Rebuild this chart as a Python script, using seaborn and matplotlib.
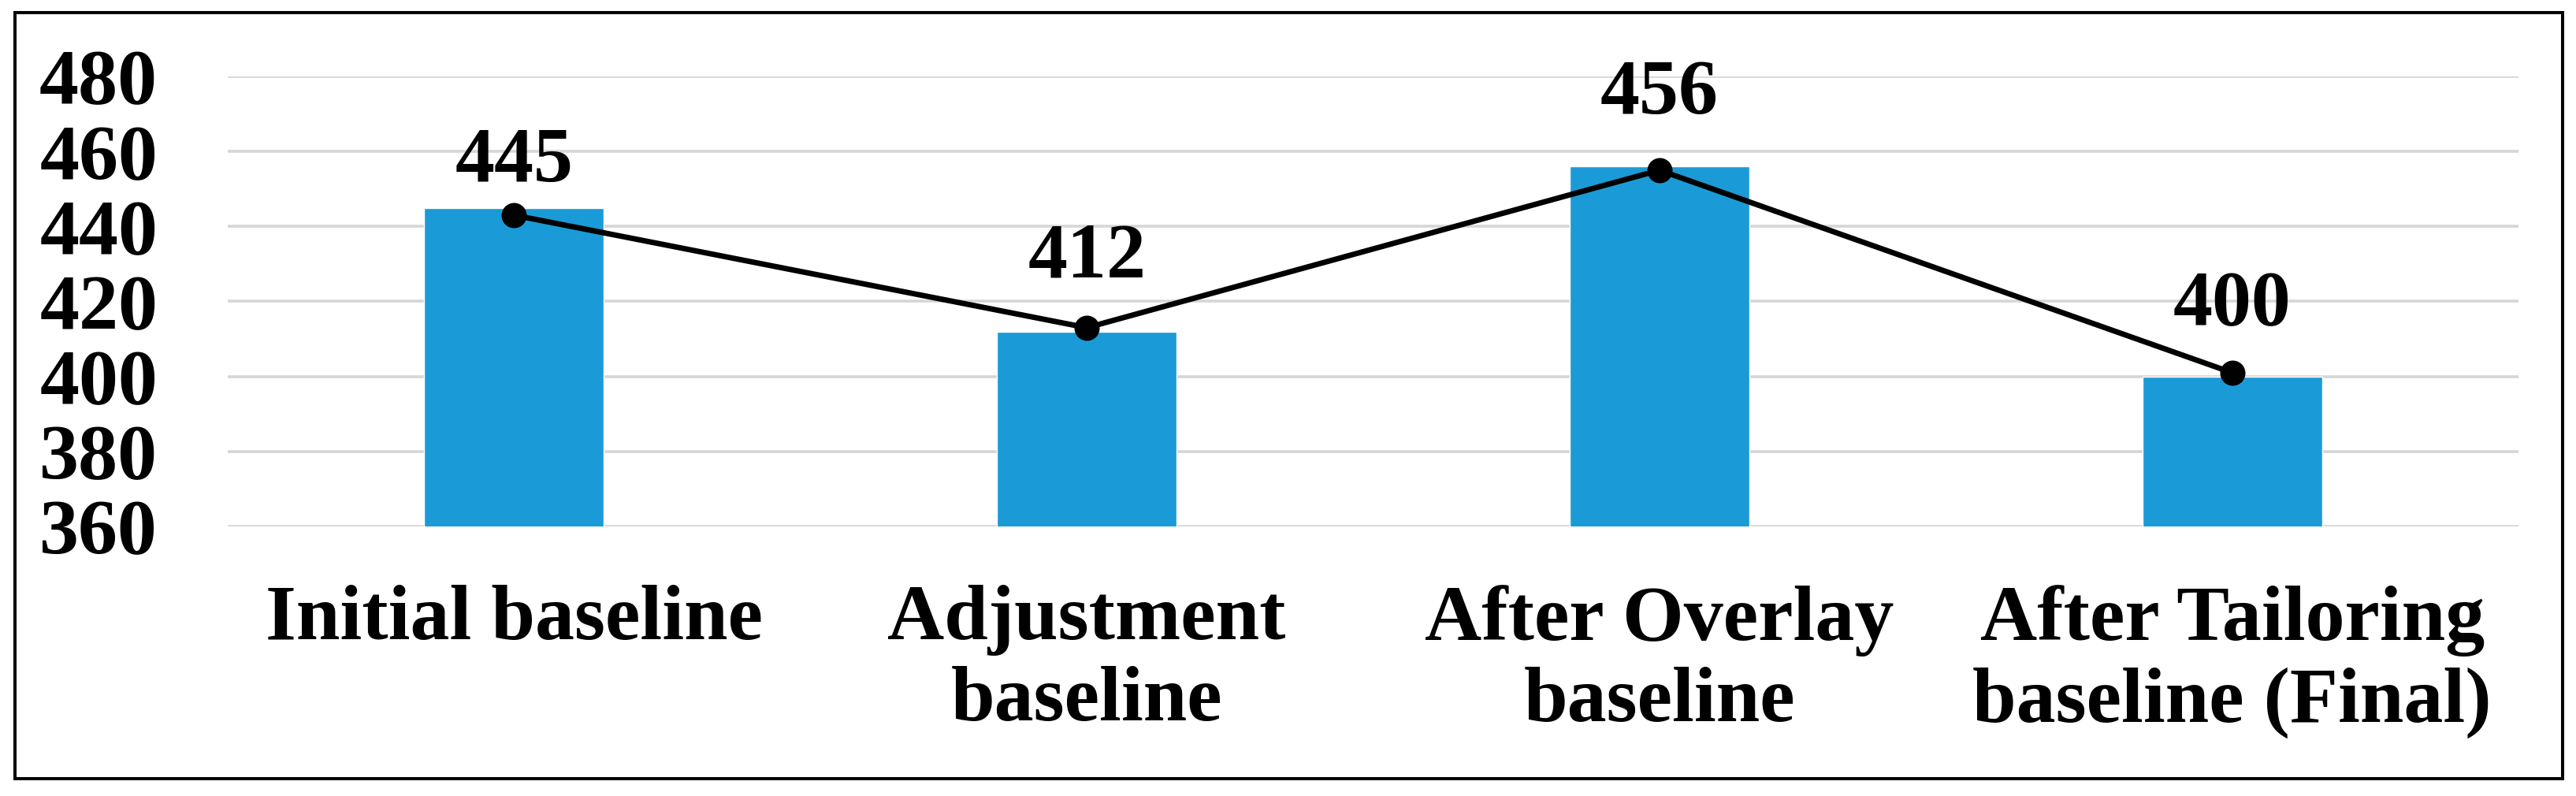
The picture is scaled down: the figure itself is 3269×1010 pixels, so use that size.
import matplotlib
matplotlib.use("Agg")
import matplotlib.pyplot as plt
from matplotlib.patches import Rectangle
import seaborn as sns
import pandas as pd

# data
categories = ["Initial baseline",
              "Adjustment\nbaseline",
              "After Overlay\nbaseline",
              "After Tailoring\nbaseline (Final)"]
bar_values = [445, 412, 456, 400]
line_values = [443, 413, 455, 401]
y_ticks = [360, 380, 400, 420, 440, 460, 480]

# label offsets above the line points (points), as placed in the reference
label_offsets = [31, 46, 52, 44]

bar_color = "#1A9BD7"
grid_color = "#D6D6D6"

sns.set_theme(style="white")
plt.rcParams['font.family'] = ['Liberation Serif', 'DejaVu Serif']
plt.rcParams['font.weight'] = 'bold'

data = pd.DataFrame({'category': categories,
                     'bar': bar_values,
                     'line': line_values})

fig = plt.figure(figsize=(32.69, 10.10), dpi=100)
ax = fig.add_axes([0.0884, 0.3386, 0.9777 - 0.0884, 0.904 - 0.3386])

ax.set_axisbelow(True)
ax.yaxis.grid(True, color=grid_color, linewidth=2.6)
ax.xaxis.grid(False)

sns.barplot(data=data, x='category', y='bar', color=bar_color,
            width=0.314, saturation=1, ax=ax)
sns.pointplot(data=data, x='category', y='line', color='black',
              markers='o', errorbar=None, ax=ax)
# thicker connecting line and bigger dots, like the reference
for ln in ax.lines:
    ln.set_linewidth(5)
    ln.set_markersize(21)
    ln.set_zorder(5)

for i, (v, lv, off) in enumerate(zip(bar_values, line_values, label_offsets)):
    ax.annotate(str(v), xy=(i, lv), xytext=(0, off),
                textcoords='offset points', ha='center', va='baseline',
                fontsize=72, fontweight='bold', color='black')

ax.set_ylim(360, 480)
ax.set_yticks(y_ticks)
ax.set_xlim(-0.5, len(categories) - 0.5)
ax.set_xlabel('')
ax.set_ylabel('')
ax.tick_params(axis='y', length=0, pad=64, labelsize=72, labelcolor='black')
ax.tick_params(axis='x', length=0, pad=53, labelsize=72, labelcolor='black')
for lab in ax.get_xticklabels() + ax.get_yticklabels():
    lab.set_fontweight('bold')
for s in ax.spines.values():
    s.set_visible(False)

# outer frame around the whole chart
fig.patches.append(Rectangle((19 / 3269, 1 - 988 / 1010),
                             (3252 - 19) / 3269, (988 - 16) / 1010,
                             transform=fig.transFigure, fill=False,
                             edgecolor='black', linewidth=2.9))

plt.savefig('out.png', dpi=100)
